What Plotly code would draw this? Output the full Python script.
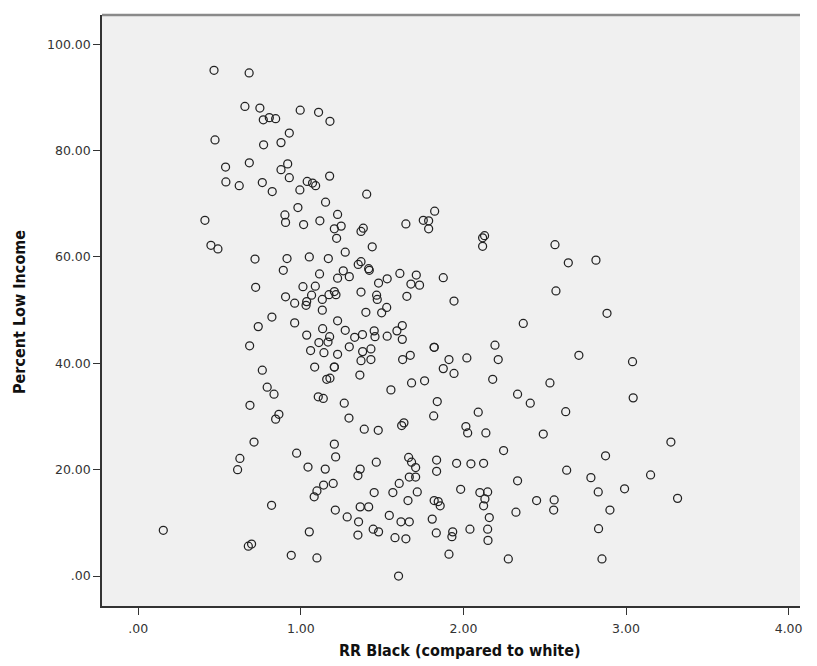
import plotly.graph_objects as go

# RR Black (compared to white)
rr_black = [
    0.466, 0.682, 0.656, 0.748, 0.769, 0.806, 0.845, 0.996, 1.109, 1.179,
    0.472, 0.929, 0.771, 0.878, 0.537, 0.683, 0.919, 0.878, 0.929, 0.539,
    0.621, 0.763, 0.824, 0.994, 1.039, 1.072, 1.091, 1.177, 1.152, 0.982,
    0.902, 0.906, 1.017, 1.117, 1.226, 1.206, 1.248, 1.220, 0.410, 0.447,
    0.490, 0.718, 0.915, 1.052, 1.169, 0.892, 1.115, 1.226, 0.722, 0.906,
    1.013, 1.089, 0.962, 1.036, 1.032, 1.066, 1.132, 1.173, 1.206, 1.216,
    1.132,
    1.405, 1.370, 1.384, 1.273, 1.353, 1.370, 1.261, 1.298, 1.417, 1.421,
    1.370, 1.400,
    1.646, 1.753, 1.786, 1.823, 1.786, 1.439, 2.118, 2.130, 2.118, 2.563,
    2.645, 2.815, 1.609, 1.710, 1.876, 1.531, 1.478, 1.677, 1.730, 2.569,
    1.466, 1.470, 1.652, 1.942, 1.528, 1.497, 2.883,
    0.822, 0.738, 0.962, 1.134, 1.226, 1.177, 1.167, 1.036, 1.111, 0.685,
    1.060, 1.142, 1.226, 1.273, 1.331, 1.379, 1.298, 1.380, 1.431, 1.370,
    1.431, 1.451, 1.456, 1.531, 1.591, 1.624, 1.624, 1.820, 1.820, 1.626,
    1.673, 1.911, 2.021, 2.194, 2.214, 2.368, 2.710, 3.040,
    1.085, 1.206, 1.206, 0.763, 1.159, 1.179, 0.793, 0.835, 1.107, 1.138,
    0.687, 1.363, 1.876, 1.942, 2.180, 1.554, 1.681, 1.761, 2.333, 2.411,
    2.532, 2.629, 1.267, 3.044, 1.839, 2.091, 1.817, 0.865, 0.845, 1.296,
    1.390, 1.476, 1.620, 1.634, 2.015, 2.026, 2.138, 2.491, 2.247, 0.712,
    1.206, 0.974, 0.625, 1.214, 0.611, 1.044, 1.150, 1.464, 1.365, 1.351,
    1.663, 1.681, 1.706, 1.706, 1.667, 1.835, 1.835, 1.958, 2.046, 2.124,
    2.635, 3.276, 2.874,
    1.199, 1.140, 1.099, 1.082, 0.820, 1.212, 0.154, 1.052, 0.677, 0.697,
    0.941, 1.099, 2.333, 1.451, 1.605, 1.566, 1.716, 1.659, 1.983, 2.101,
    2.149, 2.132, 2.124, 2.450, 2.558, 2.555, 2.323, 2.159, 1.820, 1.845,
    1.857, 1.285, 1.365, 1.417, 1.355, 1.544, 1.616, 1.667, 1.808, 1.351,
    1.445, 1.478, 1.579, 1.646, 1.833, 1.934, 1.929, 2.040, 2.149, 2.151,
    1.911, 2.276, 1.601, 2.784, 3.151, 2.829, 2.991, 3.317, 2.901, 2.831,
    2.852,
]

# Percent Low Income
pct_low_income = [
    95.1, 94.6, 88.3, 88.0, 85.8, 86.2, 86.0, 87.6, 87.2, 85.5,
    82.0, 83.3, 81.1, 81.5, 76.9, 77.7, 77.5, 76.4, 74.9, 74.1,
    73.4, 74.0, 72.3, 72.6, 74.2, 73.9, 73.4, 75.2, 70.3, 69.3,
    67.9, 66.5, 66.1, 66.8, 68.0, 65.3, 65.8, 63.5, 66.9, 62.2,
    61.5, 59.6, 59.7, 60.0, 59.7, 57.5, 56.8, 56.0, 54.3, 52.5,
    54.4, 54.5, 51.3, 51.6, 50.9, 52.8, 52.0, 52.9, 53.5, 52.9,
    50.0,
    71.8, 64.8, 65.4, 60.9, 58.6, 59.1, 57.4, 56.3, 57.8, 57.5,
    53.4, 49.6,
    66.2, 66.9, 66.8, 68.6, 65.3, 61.9, 63.6, 64.0, 62.0, 62.3,
    58.9, 59.4, 56.9, 56.6, 56.1, 55.9, 55.1, 54.9, 54.7, 53.6,
    52.8, 52.0, 52.6, 51.7, 50.5, 49.5, 49.4,
    48.7, 46.9, 47.6, 46.5, 48.0, 45.0, 44.0, 45.3, 43.9, 43.3,
    42.4, 42.0, 41.7, 46.2, 44.9, 45.4, 43.1, 42.2, 42.7, 40.5,
    40.7, 46.1, 45.0, 45.1, 46.1, 47.1, 44.5, 43.0, 43.0, 40.7,
    41.5, 40.7, 41.0, 43.4, 40.7, 47.5, 41.5, 40.3,
    39.3, 39.3, 39.3, 38.7, 37.0, 37.2, 35.5, 34.2, 33.7, 33.4,
    32.1, 37.8, 39.0, 38.1, 37.0, 35.0, 36.3, 36.7, 34.2, 32.5,
    36.3, 30.9, 32.5, 33.5, 32.8, 30.8, 30.1, 30.4, 29.5, 29.7,
    27.6, 27.4, 28.3, 28.8, 28.1, 26.9, 26.9, 26.7, 23.6, 25.2,
    24.8, 23.1, 22.1, 22.4, 20.0, 20.5, 20.1, 21.4, 20.1, 18.9,
    22.3, 21.4, 20.4, 18.6, 18.6, 21.8, 19.7, 21.2, 21.1, 21.2,
    19.9, 25.2, 22.6,
    17.4, 17.1, 16.0, 14.9, 13.3, 12.4, 8.6, 8.3, 5.6, 6.0,
    3.9, 3.4, 17.9, 15.7, 17.4, 15.7, 15.8, 14.2, 16.3, 15.7,
    15.8, 14.5, 13.2, 14.2, 14.3, 12.4, 12.0, 11.0, 14.2, 14.0,
    13.2, 11.1, 13.0, 13.0, 10.2, 11.4, 10.2, 10.2, 10.7, 7.7,
    8.8, 8.3, 7.2, 7.0, 8.1, 8.3, 7.4, 8.8, 8.8, 6.7,
    4.1, 3.2, 0.0, 18.5, 19.0, 15.8, 16.4, 14.6, 12.4, 8.9,
    3.2,
]

x_tickvals = [0, 1, 2, 3, 4]
x_ticktext = [".00", "1.00", "2.00", "3.00", "4.00"]
y_tickvals = [0, 20, 40, 60, 80, 100]
y_ticktext = [".00", "20.00", "40.00", "60.00", "80.00", "100.00"]
x_title = "RR Black (compared to white)"
y_title = "Percent Low Income"

fig = go.Figure()
fig.add_trace(go.Scatter(
    x=rr_black, y=pct_low_income, mode="markers",
    marker=dict(symbol="circle-open", size=8, color="#222222",
                line=dict(width=1.25, color="#222222")),
    hoverinfo="skip", showlegend=False,
))

tick_font = dict(family="DejaVu Sans, Verdana, sans-serif", size=12.5, color="#333333")
title_font = dict(family="DejaVu Sans Condensed, sans-serif", size=16, color="#111111")

# page has an 8px body margin; figure sized so the plot area lands where the reference has it
fig.update_layout(
    width=809, height=658,
    margin=dict(l=94, r=17, t=7, b=60),
    paper_bgcolor="white", plot_bgcolor="#f0f0f0",
    xaxis=dict(
        range=[-0.223, 4.07], tickvals=x_tickvals, ticktext=x_ticktext,
        ticks="outside", ticklen=7, tickwidth=1.2, tickcolor="#333333",
        showgrid=False, zeroline=False, showline=True, linecolor="#333333",
        linewidth=1.5, tickfont=tick_font, ticklabelstandoff=3, automargin=False,
    ),
    yaxis=dict(
        range=[-5.64, 105.5], tickvals=y_tickvals, ticktext=y_ticktext,
        ticks="outside", ticklen=7, tickwidth=1.2, tickcolor="#333333",
        showgrid=False, zeroline=False, showline=True, linecolor="#333333",
        linewidth=1.5, tickfont=tick_font, automargin=False,
    ),
    annotations=[
        dict(text="<b>%s</b>" % x_title, xref="paper", yref="paper",
             x=0.513, y=-0.0761, xanchor="center", yanchor="middle",
             showarrow=False, font=title_font),
        dict(text="<b>%s</b>" % y_title, xref="paper", yref="paper",
             x=-0.1175, y=0.4975, xanchor="center", yanchor="middle",
             textangle=-90, showarrow=False, font=title_font),
    ],
)
fig.add_shape(type="line", xref="paper", yref="paper", x0=0, y0=1, x1=1, y1=1,
              line=dict(color="#8a8a8a", width=2.5))

fig.write_html("out.html")
